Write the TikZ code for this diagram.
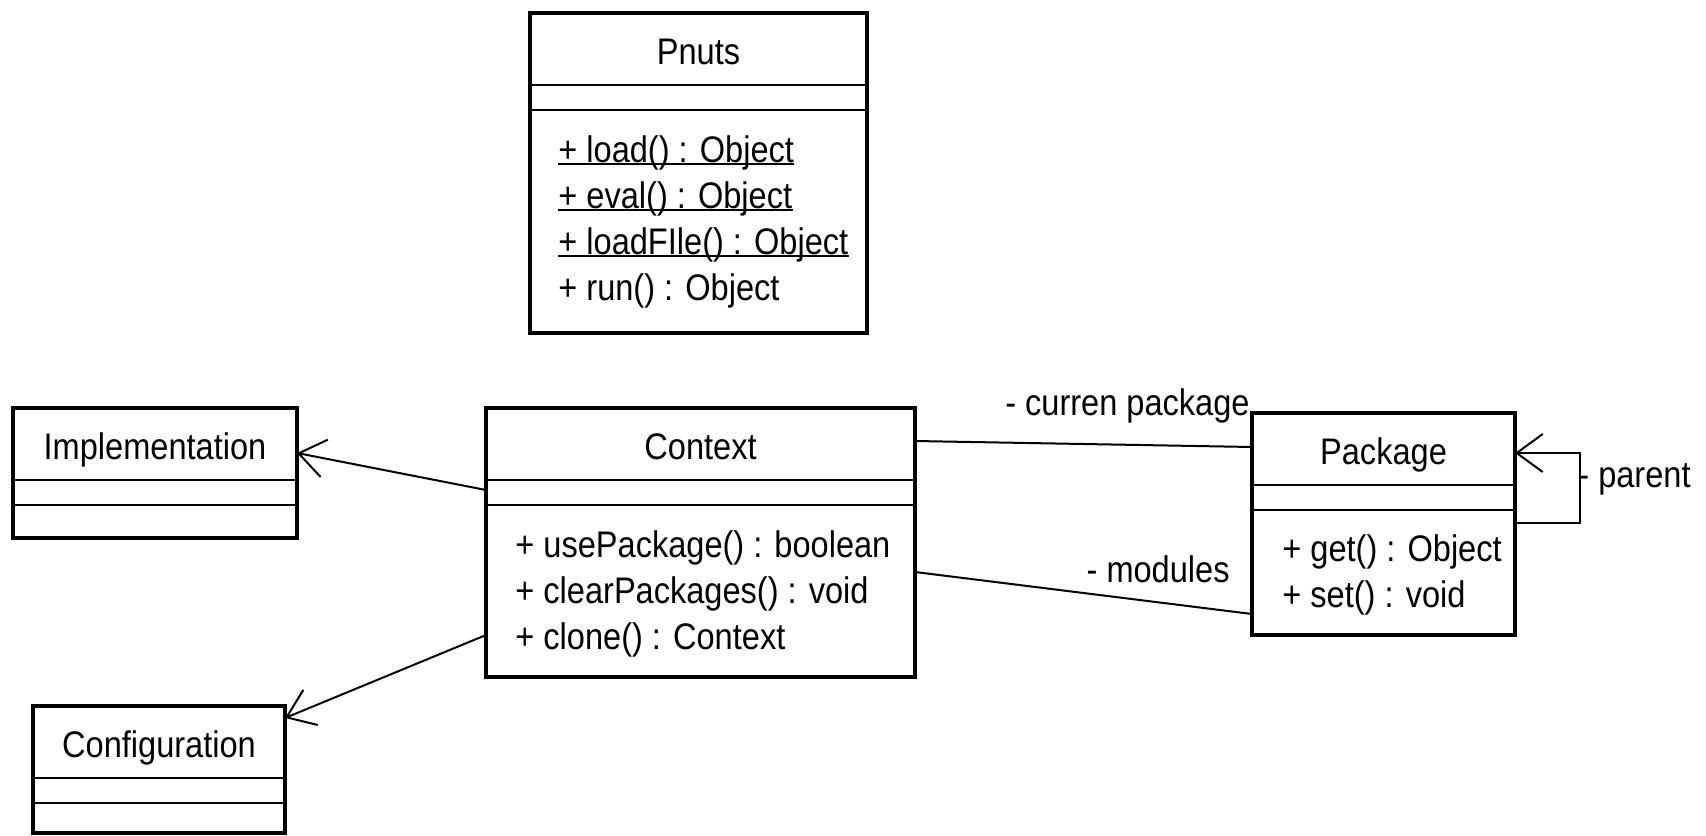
\documentclass[tikz,border=0pt]{standalone}
\usepackage{fontspec}
\setmainfont{Liberation Sans}[FakeStretch=0.88]
\usetikzlibrary{arrows.meta}

\tikzset{
  classbox/.style 2 args={draw, line width=2pt, outer sep=0pt, inner sep=0pt,
    anchor=north west, minimum width=#1*0.5pt, minimum height=#2*0.5pt},
  classname/.style={anchor=base, inner sep=0pt},
  method/.style={anchor=base west, inner sep=0pt},
  divider/.style={line width=1pt},
  assoc/.style={line width=1pt},
  navig/.style={line width=1pt, -{Straight Barb[length=13pt, width=19pt]}},
  role/.style={inner sep=0pt},
}

\begin{document}
\begin{tikzpicture}[x=0.5pt, y=0.5pt, font=\fontsize{18.5}{22}\selectfont]
\useasboundingbox (0,0) rectangle (1706,-835);

% classes
\node [classbox={337}{320}] (pnuts) at (530,-13) {};
\node [classbox={284}{130}] (impl) at (13,-408) {};
\node [classbox={252}{127}] (config) at (33,-706) {};
\node [classbox={429}{269}] (context) at (486,-408) {};
\node [classbox={263}{222}] (package) at (1252,-413) {};

\foreach \c in {pnuts,impl,config,context,package} {
  \draw [divider] ([yshift=-36pt]\c.north west) -- ([yshift=-36pt]\c.north east);
  \draw [divider] ([yshift=-48.5pt]\c.north west) -- ([yshift=-48.5pt]\c.north east);
}

% names
\node [classname] (pnutsname) at ([yshift=-25.5pt]pnuts.north) {Pnuts};
\node [classname] (implname) at ([yshift=-25.5pt]impl.north) {Implementation};
\node [classname] (configname) at ([yshift=-25.5pt]config.north) {Configuration};
\node [classname] (contextname) at ([yshift=-25.5pt]context.north) {Context};
\node [classname] (packagename) at ([yshift=-25.5pt]package.north) {Package};

% operations
\node [method] (load) at ([xshift=14pt, yshift=-74.5pt]pnuts.north west) {+ load() : Object};
\node [method] (eval) at ([yshift=-23pt]load.base west) {+ eval() : Object};
\node [method] (loadfile) at ([yshift=-23pt]eval.base west) {+ loadFIle() : Object};
\node [method] (run) at ([yshift=-23pt]loadfile.base west) {+ run() : Object};
\draw [divider] ([yshift=-1pt]load.base west) -- ([yshift=-1pt]load.base east);
\draw [divider] ([yshift=-1pt]eval.base west) -- ([yshift=-1pt]eval.base east);
\draw [divider] ([yshift=-1pt]loadfile.base west) -- ([yshift=-1pt]loadfile.base east);

\node [method] (usepkg) at ([xshift=14.5pt, yshift=-74.5pt]context.north west) {+ usePackage() : boolean};
\node [method] (clearpkg) at ([yshift=-23pt]usepkg.base west) {+ clearPackages() : void};
\node [method] (clone) at ([yshift=-23pt]clearpkg.base west) {+ clone() : Context};

\node [method] (get) at ([xshift=15pt, yshift=-74pt]package.north west) {+ get() : Object};
\node [method] (set) at ([yshift=-23pt]get.base west) {+ set() : void};

% associations
\draw [navig] ([yshift=-41pt]context.north west) -- ([yshift=-22.5pt]impl.north east);
\draw [navig] ([yshift=-113.5pt]context.north west) -- ([yshift=-6pt]config.north east);
\draw [assoc] ([yshift=-16.5pt]context.north east) -- ([yshift=-17pt]package.north west);
\draw [assoc] ([yshift=-82pt]context.north east) -- ([yshift=-100.5pt]package.north west);
\draw [navig] ([yshift=-55pt]package.north east) -- ++(65,0) coordinate (loopend)
  |- ([yshift=-20pt]package.north east);

\node [role, anchor=base east] (curpkg) at ([xshift=-1pt, yshift=-1pt]package.north west) {- curren package};
\node [role, anchor=base east] (modules) at ([xshift=-11pt, yshift=-84.5pt]package.north west) {- modules};
\node [role, anchor=base west] (parent) at ([xshift=-1pt, yshift=18pt]loopend) {- parent};
\end{tikzpicture}
\end{document}
